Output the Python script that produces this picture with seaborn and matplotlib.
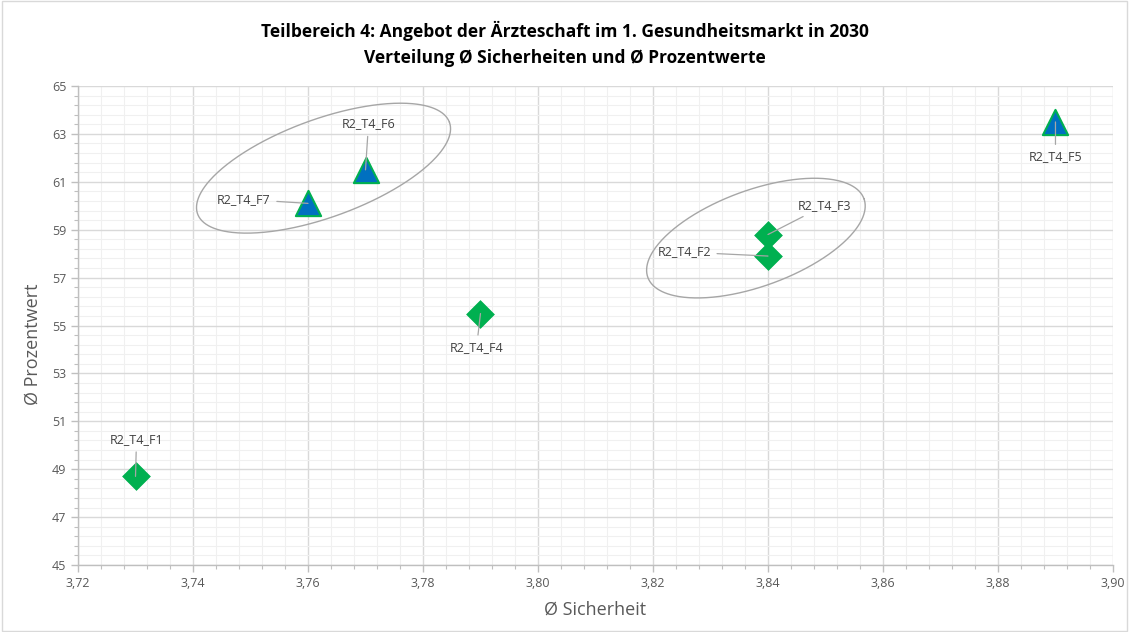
import numpy as np
import matplotlib
matplotlib.use("Agg")
import matplotlib.pyplot as plt
from matplotlib.ticker import FixedLocator, FuncFormatter
import pandas as pd
import seaborn as sns

# Data
labels = ["R2_T4_F1", "R2_T4_F2", "R2_T4_F3", "R2_T4_F4", "R2_T4_F5", "R2_T4_F6", "R2_T4_F7"]
sicherheit = [3.73, 3.84, 3.84, 3.79, 3.89, 3.77, 3.76]
prozentwert = [48.7, 57.9, 58.8, 55.5, 63.5, 61.5, 60.1]
gruppe = ["Raute", "Raute", "Raute", "Raute", "Dreieck", "Dreieck", "Dreieck"]

x_ticks = [3.72, 3.74, 3.76, 3.78, 3.80, 3.82, 3.84, 3.86, 3.88, 3.90]
y_ticks = [45, 47, 49, 51, 53, 55, 57, 59, 61, 63, 65]

# label offsets (pixels) relative to each marker
label_offsets = {
    "R2_T4_F1": (1, 37, "center", "center"),
    "R2_T4_F2": (-57, 4, "right", "center"),
    "R2_T4_F3": (30, 29, "left", "center"),
    "R2_T4_F4": (-4, -34, "center", "center"),
    "R2_T4_F5": (0, -35, "center", "center"),
    "R2_T4_F6": (3, 46, "center", "center"),
    "R2_T4_F7": (-64, 4, "center", "center"),
}

# grouping ellipses: centre (data), half-axes (px), angle (deg)
ellipses = [
    ((3.7627, 61.57), 134, 49, 20),
    ((3.8379, 58.65), 115, 48, 20),
]

df = pd.DataFrame({"label": labels, "x": sicherheit, "y": prozentwert, "gruppe": gruppe})

sns.set_theme(style="white")
plt.rcParams["font.family"] = ["Open Sans", "DejaVu Sans"]

fig = plt.figure(figsize=(11.29, 6.32), dpi=100)
ax = fig.add_axes([0.0691, 0.106, 0.9167, 0.7579])

ax.set_xlim(3.72, 3.90)
ax.set_ylim(45, 65)

major_grid = "#D9D9D9"
minor_grid = "#F0F0F0"
ax.xaxis.set_major_locator(FixedLocator(x_ticks))
ax.xaxis.set_minor_locator(FixedLocator(np.arange(x_ticks[0], x_ticks[-1] + 1e-9, 0.004)))
ax.yaxis.set_major_locator(FixedLocator(y_ticks))
ax.yaxis.set_minor_locator(FixedLocator(np.arange(y_ticks[0], y_ticks[-1] + 1e-9, 0.4)))
ax.yaxis.set_major_formatter(FuncFormatter(lambda v, p: f"{v:.0f}"))
ax.xaxis.set_major_formatter(FuncFormatter(lambda v, p: f"{v:.2f}".replace(".", ",")))
ax.grid(which="major", color=major_grid, linewidth=1.0)
ax.grid(which="minor", color=minor_grid, linewidth=0.8)
ax.set_axisbelow(True)
for side in ["top", "right"]:
    ax.spines[side].set_visible(False)
for side in ["left", "bottom"]:
    ax.spines[side].set_color("#BFBFBF")
    ax.spines[side].set_linewidth(1.0)
ax.tick_params(which="major", direction="out", length=5, color="#BFBFBF", width=1,
               labelsize=9, labelcolor="#595959", left=True, bottom=True)
ax.tick_params(which="minor", direction="out", length=3, color="#BFBFBF", width=0.8,
               left=True, bottom=True)

raute = df[df["gruppe"] == "Raute"]
dreieck = df[df["gruppe"] == "Dreieck"]
sns.scatterplot(data=raute, x="x", y="y", marker="D", s=200, color="#00B050",
                edgecolor="#00B050", linewidth=0.5, ax=ax, zorder=4)
sns.scatterplot(data=dreieck, x="x", y="y", marker="^", s=330, color="#0070C0",
                edgecolor="#00B050", linewidth=1.5, ax=ax, zorder=4)

# data labels with leader lines
for lab, xv, yv in zip(labels, sicherheit, prozentwert):
    dx, dy, ha, va = label_offsets[lab]
    ax.annotate(lab, xy=(xv, yv), xytext=(dx, dy), textcoords="offset pixels",
                ha=ha, va=va, fontsize=9, color="#404040", zorder=5,
                arrowprops=dict(arrowstyle="-", color="#A6A6A6", lw=0.9,
                                shrinkA=2, shrinkB=0))

# grouping ellipses drawn in pixel space, converted back to data units
fig.canvas.draw()
t = np.linspace(0, 2 * np.pi, 400)
for (cx, cy), a, b, ang in ellipses:
    px, py = ax.transData.transform((cx, cy))
    th = np.deg2rad(ang)
    ex = px + a * np.cos(t) * np.cos(th) - b * np.sin(t) * np.sin(th)
    ey = py + a * np.cos(t) * np.sin(th) + b * np.sin(t) * np.cos(th)
    pts = ax.transData.inverted().transform(np.column_stack([ex, ey]))
    ax.plot(pts[:, 0], pts[:, 1], color="#A6A6A6", lw=1.0, zorder=3)

ax.set_xlabel("Ø Sicherheit", fontsize=13, color="#595959", labelpad=8)
ax.set_ylabel("Ø Prozentwert", fontsize=13, color="#595959")
ax.yaxis.set_label_coords(-0.035, 0.46)

fig.suptitle("Teilbereich 4: Angebot der Ärzteschaft im 1. Gesundheitsmarkt in 2030\n"
             "Verteilung Ø Sicherheiten und Ø Prozentwerte",
             fontsize=12.5, fontweight="bold", color="#000000", y=0.967, linespacing=1.6)

# chart-area border
fig.patches.append(plt.Rectangle((0.002, 0.002), 0.996, 0.996, transform=fig.transFigure,
                                 fill=False, edgecolor="#D9D9D9", lw=1))

fig.savefig("out.png", dpi=100, facecolor="white")
